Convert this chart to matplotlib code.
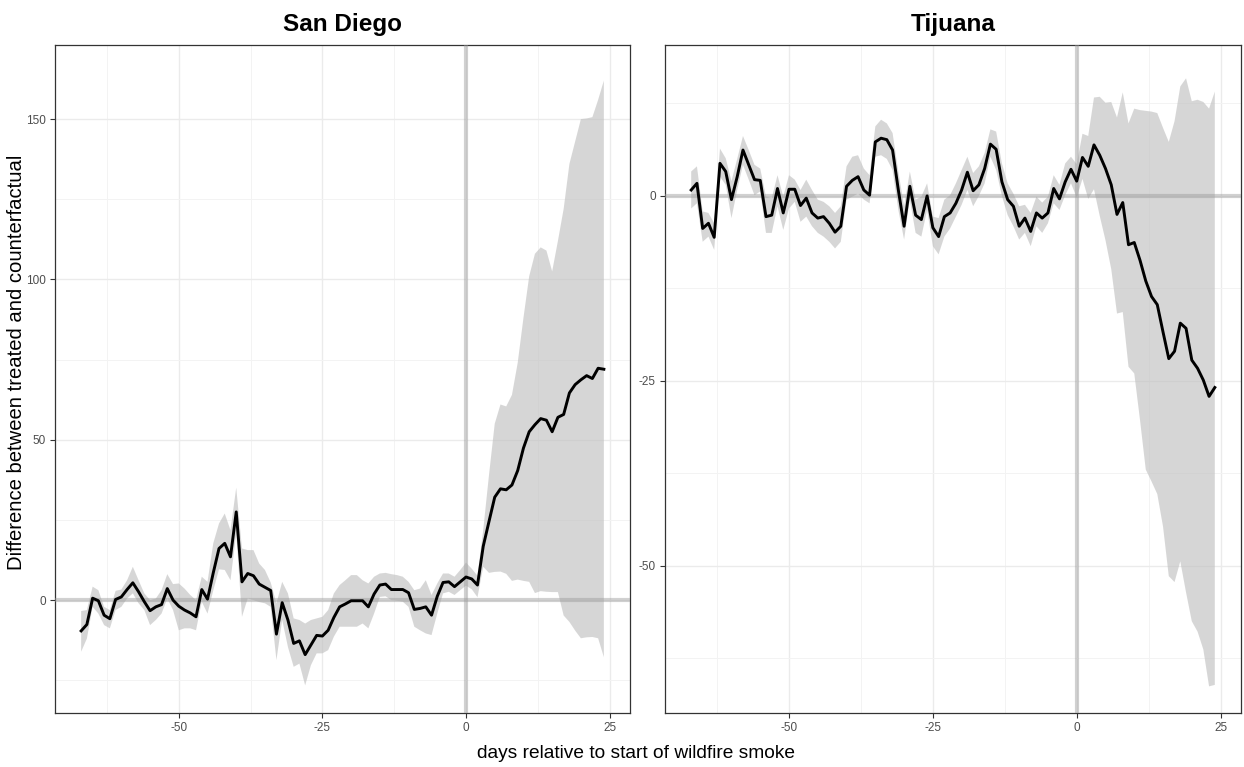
import numpy as np
import matplotlib
matplotlib.use("Agg")
import matplotlib.pyplot as plt
from matplotlib.ticker import FixedLocator

plt.rcParams['font.family'] = ['Liberation Sans', 'DejaVu Sans']
plt.rcParams['axes.unicode_minus'] = False

days = list(range(-67, 25))

# San Diego
sd_est = [-9.6, -7.6, 0.6, -0.2, -4.7, -5.8, 0.2, 1.0, 3.3, 5.4, 2.6, -0.5, -3.3, -2.1, -1.4, 3.6,
          0.0, -1.9, -3.1, -4.0, -5.2, 3.3, 0.3, 8.5, 16.1, 17.7, 13.5, 27.5, 5.7, 8.3, 7.6, 5.0, 4.0,
          3.0, -10.6, -0.8, -6.2, -13.5, -12.7, -17.0, -14.0, -11.0, -11.2, -9.4, -5.4, -2.1, -1.2,
          -0.2, -0.2, -0.2, -2.1, 1.9, 4.7, 5.0, 3.3, 3.3, 3.3, 2.3, -2.9, -2.6, -2.1, -4.7, 1.2,
          5.5, 5.7, 4.2, 5.7, 7.2,
          6.6, 4.7, 16.8, 24.5, 32.1, 34.7, 34.4, 35.9, 40.4, 47.4, 52.5, 54.7, 56.6, 56.1, 52.5,
          57.0, 57.9, 64.6, 67.2, 68.7, 70.0, 69.1, 72.3, 72.0]
sd_upper = [-3.4, -3.1, 4.2, 3.1, -2.1, -3.1, 2.9, 3.3, 6.2, 10.4, 6.2, 2.1, 0.0, 0.5, 3.1, 8.1,
            5.0, 5.2, 3.6, 1.6, 0.0, 7.3, 5.7, 17.7, 23.9, 27.0, 21.8, 35.1, 16.1, 15.6, 15.6, 11.4, 9.4,
            5.5, -1.0, 5.7, 2.1, -5.7, -6.2, -7.3, -6.2, -5.7, -5.2, -3.1, 2.1, 4.7, 6.2,
            7.8, 7.8, 6.2, 5.2, 7.3, 8.3, 8.5, 8.1, 7.8, 7.3, 5.7, 3.1, 3.6, 6.2, 1.6, 5.2,
            8.3, 8.3, 7.3, 9.4, 11.7,
            9.8, 7.6, 21.9, 39.0, 55.0, 61.0, 60.4, 64.0, 74.0, 88.0, 101.0, 108.0, 110.0, 109.0, 102.5,
            112.0, 122.0, 136.0, 143.0, 150.0, 150.2, 150.6, 156.0, 162.0]
sd_lower = [-16.1, -12.0, -2.1, -4.2, -7.8, -8.8, -3.1, -2.1, 0.5, 2.1, -1.0, -3.1, -7.8, -6.2, -4.2, 0.5,
            -3.1, -9.4, -8.8, -8.8, -9.4, -0.5, -4.2, 3.0, 9.6, 9.4, 6.2, 20.8, -5.2, 0.5, 0.0, -0.6, -1.0,
            -2.1, -18.7, -6.2, -14.6, -20.8, -19.8, -26.6, -20.3, -16.6, -16.6, -15.6, -11.4, -8.3, -8.3,
            -8.3, -8.3, -7.3, -8.8, -4.2, 1.0, 1.2, 0.0, -0.2, -0.5, -2.1, -8.3, -9.4, -10.4, -10.9, -4.2,
            2.1, 2.6, 1.6, 3.1, 4.5,
            3.4, 0.9, 10.4, 8.5, 8.8, 8.9, 8.2, 6.0, 6.4, 6.0, 5.7, 2.2, 2.8, 2.6, 2.5,
            2.5, -4.8, -6.8, -9.5, -11.9, -11.6, -11.5, -11.9, -17.8]

# Tijuana
tj_est = [0.8, 1.7, -4.4, -3.7, -5.6, 4.4, 3.3, -0.5, 2.6, 6.2, 4.2, 2.2, 2.1, -2.8, -2.6, 1.0,
          -2.3, 0.9, 0.9, -1.3, -0.3, -2.3, -3.0, -2.8, -3.7, -4.9, -4.1, 1.3, 2.1, 2.6, 0.8, 0.1,
          7.3, 7.8, 7.6, 6.2, 0.8, -4.1, 1.3, -2.6, -3.2, 0.0, -4.3, -5.5, -2.8, -2.3, -1.0, 0.8,
          3.2, 0.7, 1.5, 3.7, 7.0, 6.3, 1.9, -0.5, -1.4, -4.1, -3.0, -4.8, -2.3, -3.0, -2.3, 1.0,
          -0.4, 1.9, 3.6, 2.0,
          5.2, 4.0, 6.9, 5.5, 3.7, 1.5, -2.5, -0.9, -6.6, -6.3, -8.7, -11.5, -13.6, -14.7, -18.4,
          -22.0, -21.0, -17.2, -17.9, -22.2, -23.3, -24.9, -27.1, -25.9]
tj_upper = [3.3, 4.0, -2.1, -2.3, -3.7, 6.4, 5.1, 2.0, 5.0, 8.1, 6.2, 4.2, 3.7, -0.1, -0.3, 2.8,
            -0.1, 2.8, 2.2, 0.8, 2.2, 0.8, -0.5, -0.8, -1.4, -2.3, -1.4, 4.0, 5.3, 5.5, 3.7, 2.8,
            9.4, 10.3, 9.8, 8.5, 3.3, -1.4, 3.3, -0.5, -0.1, 1.7, -2.8, -3.0, -0.5, 0.1, 1.7, 3.5,
            5.3, 3.1, 4.0, 5.8, 9.0, 8.7, 4.4, 1.7, 0.3, -1.4, -1.2, -2.3, -0.1, -0.9, -0.1, 2.8,
            1.5, 4.4, 5.3, 4.3,
            8.4, 8.1, 13.3, 13.4, 12.6, 12.7, 10.6, 14.0, 9.8, 11.8, 11.6, 11.5, 11.4, 11.2, 9.2,
            7.3, 10.1, 14.8, 15.9, 12.8, 13.0, 12.7, 11.8, 14.1]
tj_lower = [-1.7, -1.0, -6.2, -5.5, -7.3, 2.6, 1.5, -3.0, 0.8, 4.2, 2.2, 0.1, 0.6, -5.0, -5.0, -1.4,
            -4.6, -1.7, -0.8, -3.5, -2.8, -4.1, -5.0, -5.5, -6.2, -7.1, -6.2, -0.5, -0.1, 0.3, -0.5, -1.0,
            5.3, 5.5, 5.0, 3.5, -1.9, -5.9, -0.5, -5.0, -5.5, -1.9, -6.8, -7.9, -5.5, -4.4, -2.8, -1.2,
            0.8, -1.4, 0.0, 1.7, 5.3, 3.5, 0.0, -2.6, -4.1, -5.9, -5.0, -6.8, -4.1, -5.0, -3.7, -1.0,
            -1.9, 0.1, 1.7, -0.2,
            2.3, -0.4, 0.9, -2.7, -6.0, -9.9, -15.9, -15.7, -23.1, -24.0, -30.3, -37.0, -38.6, -40.3, -44.7,
            -51.4, -52.2, -49.4, -53.6, -57.5, -58.9, -61.3, -66.3, -66.1]

titles = ["San Diego", "Tijuana"]
x_ticks = [-50, -25, 0, 25]
x_minor = [-62.5, -37.5, -12.5, 12.5]
sd_yticks = [0, 50, 100, 150]
sd_yminor = [-25, 25, 75, 125]
tj_yticks = [-50, -25, 0]
tj_yminor = [-62.5, -37.5, -12.5, 12.5]

W, H = 1244, 767
fig = plt.figure(figsize=(W / 100, H / 100), dpi=100)

def px_axes(x0, x1, y0, y1):
    return fig.add_axes([x0 / W, 1 - y1 / H, (x1 - x0) / W, (y1 - y0) / H])

ax1 = px_axes(55, 630, 45, 713)
ax2 = px_axes(665, 1241, 45, 713)

panels = [(ax1, sd_est, sd_lower, sd_upper, titles[0], sd_yticks, sd_yminor, (-35.2, 173.1)),
          (ax2, tj_est, tj_lower, tj_upper, titles[1], tj_yticks, tj_yminor, (-69.9, 20.4))]

for ax, est, lo, hi, title, yt, ym, ylim in panels:
    ax.fill_between(days, lo, hi, facecolor='#bebebe', alpha=0.62, linewidth=0, zorder=2)
    ax.axhline(0, color='#9a9a9a', alpha=0.45, linewidth=3.0, zorder=3)
    ax.axvline(0, color='#9a9a9a', alpha=0.45, linewidth=3.0, zorder=3)
    ax.plot(days, est, color='black', linewidth=2.1, zorder=4)
    ax.set_xlim(-71.55, 28.55)
    ax.set_ylim(*ylim)
    ax.xaxis.set_major_locator(FixedLocator(x_ticks))
    ax.xaxis.set_minor_locator(FixedLocator(x_minor))
    ax.yaxis.set_major_locator(FixedLocator(yt))
    ax.yaxis.set_minor_locator(FixedLocator(ym))
    ax.grid(which='major', color='#ebebeb', linewidth=1.0, zorder=0)
    ax.grid(which='minor', color='#f3f3f3', linewidth=0.7, zorder=0)
    ax.set_axisbelow(True)
    for s in ax.spines.values():
        s.set_color('#333333')
        s.set_linewidth(0.9)
    ax.tick_params(which='major', length=3.5, width=0.8, color='#333333',
                   labelsize=8.5, labelcolor='#4d4d4d', pad=3)
    ax.tick_params(which='minor', length=0)
    ax.set_title(title, fontsize=17.5, fontweight='bold', pad=10)

fig.text(0.0135, 0.528, 'Difference between treated and counterfactual', rotation=90,
         fontsize=14.6, va='center', ha='center')
fig.text(0.511, 0.018, 'days relative to start of wildfire smoke', fontsize=13.8,
         ha='center', va='center')

fig.savefig('out.png', dpi=100)
